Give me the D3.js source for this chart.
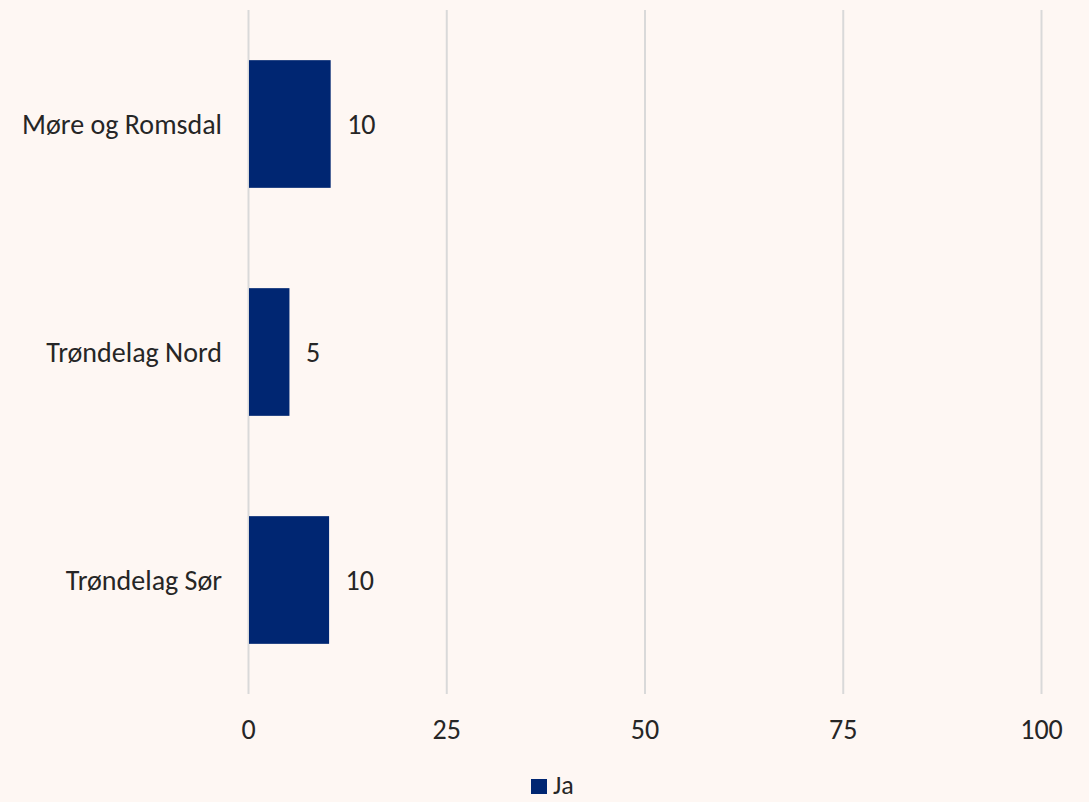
<!DOCTYPE html>
<html>
<head>
<meta charset="utf-8">
<script src="https://cdn.jsdelivr.net/npm/d3@7"></script>
<style>
  body { margin: 0; background: #fef7f3; }
  svg { display: block; font-family: Carlito, Lato, "Open Sans", sans-serif; }
</style>
</head>
<body>
<div class="chart"></div>
<script>
// data
const categories = ["Møre og Romsdal", "Trøndelag Nord", "Trøndelag Sør"];
const jaValues = [10.3, 5.1, 10.1];
const labels = ["10", "5", "10"];
const xTicks = [0, 25, 50, 75, 100];
const seriesName = "Ja";

const width = 1089, height = 802;
const margin = { top: 10, right: 47.5, bottom: 108, left: 248.5 };
const barColor = "#002672";
const fontSize = 28;

let svg = d3.select(".chart").append("svg").attr("width", width).attr("height", height);
svg.append("rect").attr("width", width).attr("height", height).attr("fill", "#fef7f3");

let x = d3.scaleLinear().domain([0, 100]).range([margin.left, width - margin.right]);
let y = d3.scaleBand().domain(categories).range([margin.top, height - margin.bottom]).paddingInner(0.44).paddingOuter(0.22);

// gridlines
svg.append("g")
  .selectAll("line")
  .data(xTicks)
  .enter()
  .append("line")
  .attr("x1", d => x(d)).attr("x2", d => x(d))
  .attr("y1", margin.top).attr("y2", height - margin.bottom)
  .attr("stroke", "#d9d9d9")
  .attr("stroke-width", 2);

// x tick labels
svg.append("g")
  .selectAll("text")
  .data(xTicks)
  .enter()
  .append("text")
  .attr("x", d => x(d))
  .attr("y", 739)
  .attr("text-anchor", "middle")
  .attr("font-size", fontSize)
  .attr("fill", "#262626")
  .text(d => d);

// bars
svg.append("g")
  .selectAll("rect")
  .data(jaValues)
  .enter()
  .append("rect")
  .attr("x", x(0) + 0.5)
  .attr("y", (d, i) => y(categories[i]))
  .attr("width", d => x(d) - x(0))
  .attr("height", y.bandwidth())
  .attr("fill", barColor);

// value labels
svg.append("g")
  .selectAll("text")
  .data(jaValues)
  .enter()
  .append("text")
  .attr("x", d => x(d) + 17)
  .attr("y", (d, i) => y(categories[i]) + y.bandwidth() / 2 + 10)
  .attr("font-size", fontSize)
  .attr("fill", "#262626")
  .text((d, i) => labels[i]);

// category labels
svg.append("g")
  .selectAll("text")
  .data(categories)
  .enter()
  .append("text")
  .attr("x", 222)
  .attr("y", d => y(d) + y.bandwidth() / 2 + 10)
  .attr("text-anchor", "end")
  .attr("font-size", fontSize)
  .attr("fill", "#262626")
  .text(d => d);

// legend
let legend = svg.append("g").attr("transform", "translate(531,779)");
legend.append("rect").attr("width", 16).attr("height", 15).attr("fill", barColor);
legend.append("text").attr("x", 22).attr("y", 15).attr("font-size", 26).attr("fill", "#262626").text(seriesName);
</script>
</body>
</html>
